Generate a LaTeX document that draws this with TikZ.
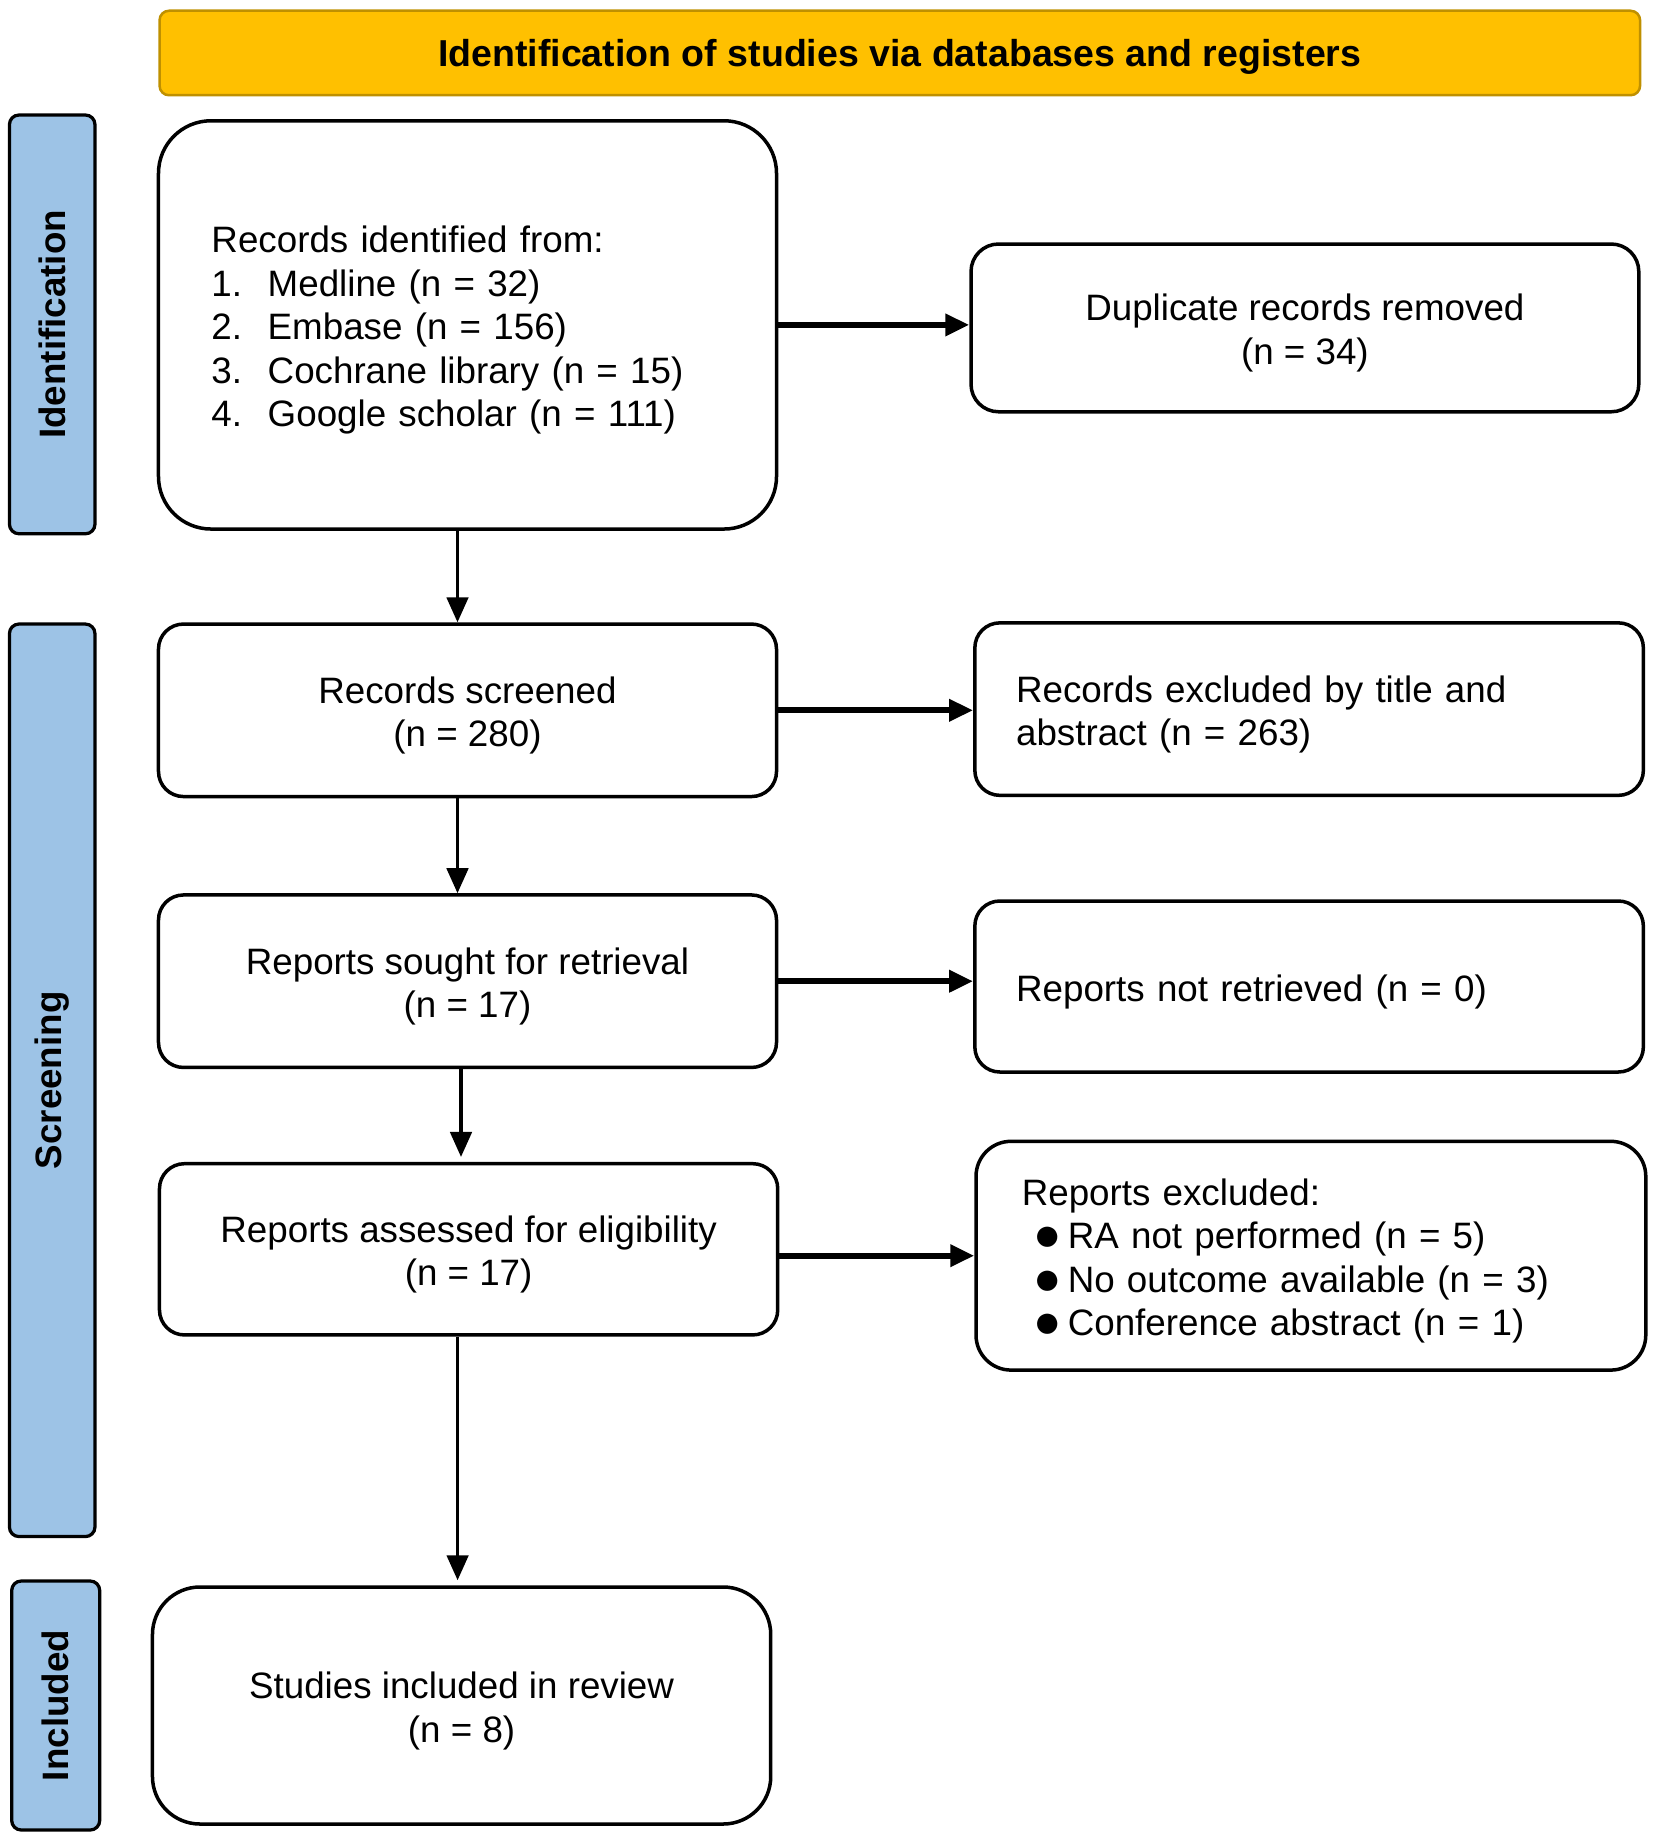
\documentclass[tikz,border=0pt]{standalone}
\usepackage{fontspec}
\setmainfont{Liberation Sans}
\usetikzlibrary{arrows.meta}
\definecolor{bannerfill}{HTML}{FFC000}
\definecolor{bannerdraw}{HTML}{BF9000}
\definecolor{barfill}{HTML}{9DC3E6}
\newcommand{\numitem}[1]{\makebox[22.5pt][l]{#1}}
\newcommand{\bul}{\hspace*{4.6pt}\makebox[13.8pt][l]{\raisebox{-0.8pt}{\fontsize{18.8}{17.4}\selectfont ●}}}
\newcommand{\strt}{\rule{0pt}{14.9pt}}
\begin{document}
\begin{tikzpicture}[x=0.4pt,y=-0.4pt,
  box/.style={draw=black, line width=1.4pt, fill=white, rounded corners=10pt, inner sep=0pt,
    font=\fontsize{14.7}{17.4}\selectfont},
  bar/.style={draw=black, line width=1.3pt, fill=barfill, rounded corners=3.8pt, inner sep=0pt,
    font=\fontsize{14.7}{17}\selectfont\bfseries, rotate=90},
  banner/.style={draw=bannerdraw, line width=1pt, fill=bannerfill, rounded corners=3.8pt, inner sep=0pt,
    font=\fontsize{15}{17.4}\selectfont\bfseries},
  harrow/.style={line width=2.4pt, -{Triangle[length=9.6pt,width=8.5pt]}},
  varrow/.style={line width=1.3pt, -{Triangle[length=10pt,width=8.6pt]}}]
\useasboundingbox (0,0) rectangle (1654,1839);

% banner and phase bars
\node[banner, minimum width=592.2pt, minimum height=33.8pt] (banner) at (899.8,53)
  {\rule{0pt}{13.8pt}Identification of studies via databases and registers};
\node[bar, minimum width=167.5pt, minimum height=34.2pt] (barid) at (52.2,324.4) {Identification};
\node[bar, minimum width=365pt, minimum height=34.2pt] (barscr) at (52.2,1080.3) {Screening};
\node[bar, minimum width=99.6pt, minimum height=35.2pt] (barinc) at (55.7,1705.5) {Included};

% left column
\node[box, rounded corners=21pt, minimum width=247.2pt, minimum height=163.3pt,
  text width=204.8pt, inner xsep=21.2pt, align=left] (ident) at (467.5,324.9)
  {\strt Records identified from:\\
   \numitem{1.}Medline (n = 32)\\
   \numitem{2.}Embase (n = 156)\\
   \numitem{3.}Cochrane library (n = 15)\\
   \numitem{4.}Google scholar (n = 111)};
\node[box, minimum width=247.2pt, minimum height=69pt, align=center] (screened) at (467.5,710.3)
  {\strt Records screened\\(n = 280)};
\node[box, minimum width=247.2pt, minimum height=69pt, align=center] (sought) at (467.5,981.2)
  {\strt Reports sought for retrieval\\(n = 17)};
\node[box, minimum width=247.3pt, minimum height=68.5pt, align=center] (assessed) at (468.6,1249.3)
  {\strt Reports assessed for eligibility\\(n = 17)};
\node[box, rounded corners=19pt, minimum width=247.3pt, minimum height=94.8pt, align=center] (included) at (461.6,1705.5)
  {\strt Studies included in review\\(n = 8)};

% right column
\node[box, rounded corners=11pt, minimum width=267.1pt, minimum height=67.1pt, align=center] (dup) at (1304.9,327.9)
  {\strt Duplicate records removed\\(n = 34)};
\node[box, minimum width=267.4pt, minimum height=69pt, text width=234.4pt, inner xsep=16.5pt, align=left] (extitle) at (1309.1,709.1)
  {\strt Records excluded by title and\\abstract (n = 263)};
\node[box, minimum width=267.4pt, minimum height=68.4pt, text width=234.4pt, inner xsep=16.5pt, align=left] (notret) at (1309.1,986.5)
  {\strt Reports not retrieved (n = 0)};
\node[box, rounded corners=14pt, minimum width=267.9pt, minimum height=91.5pt, text width=231.3pt, inner xsep=18.3pt, align=left] (repexcl) at (1310.9,1255.7)
  {\strt Reports excluded:\\
   \bul RA not performed (n = 5)\\
   \bul No outcome available (n = 3)\\
   \bul Conference abstract (n = 1)};

% connectors
\draw[varrow] ([xshift=-4pt]ident.south) -- ([xshift=-4pt]ident.south |- screened.north);
\draw[varrow] ([xshift=-4pt]screened.south) -- ([xshift=-4pt]screened.south |- sought.north);
\draw[varrow] ([xshift=-2.6pt]sought.south) -- ([xshift=-2.6pt,yshift=2pt]sought.south |- assessed.north);
\draw[varrow] ([xshift=-4.4pt]assessed.south) -- ([xshift=-4.4pt,yshift=2pt]assessed.south |- included.north);

\draw[harrow] (ident.east) -- (ident.east -| dup.west);
\draw[harrow] (screened.east) -- (screened.east -| extitle.west);
\draw[harrow] (sought.east) -- (sought.east -| notret.west);
\draw[harrow] (assessed.east |- repexcl.west) -- (repexcl.west);
\end{tikzpicture}
\end{document}
